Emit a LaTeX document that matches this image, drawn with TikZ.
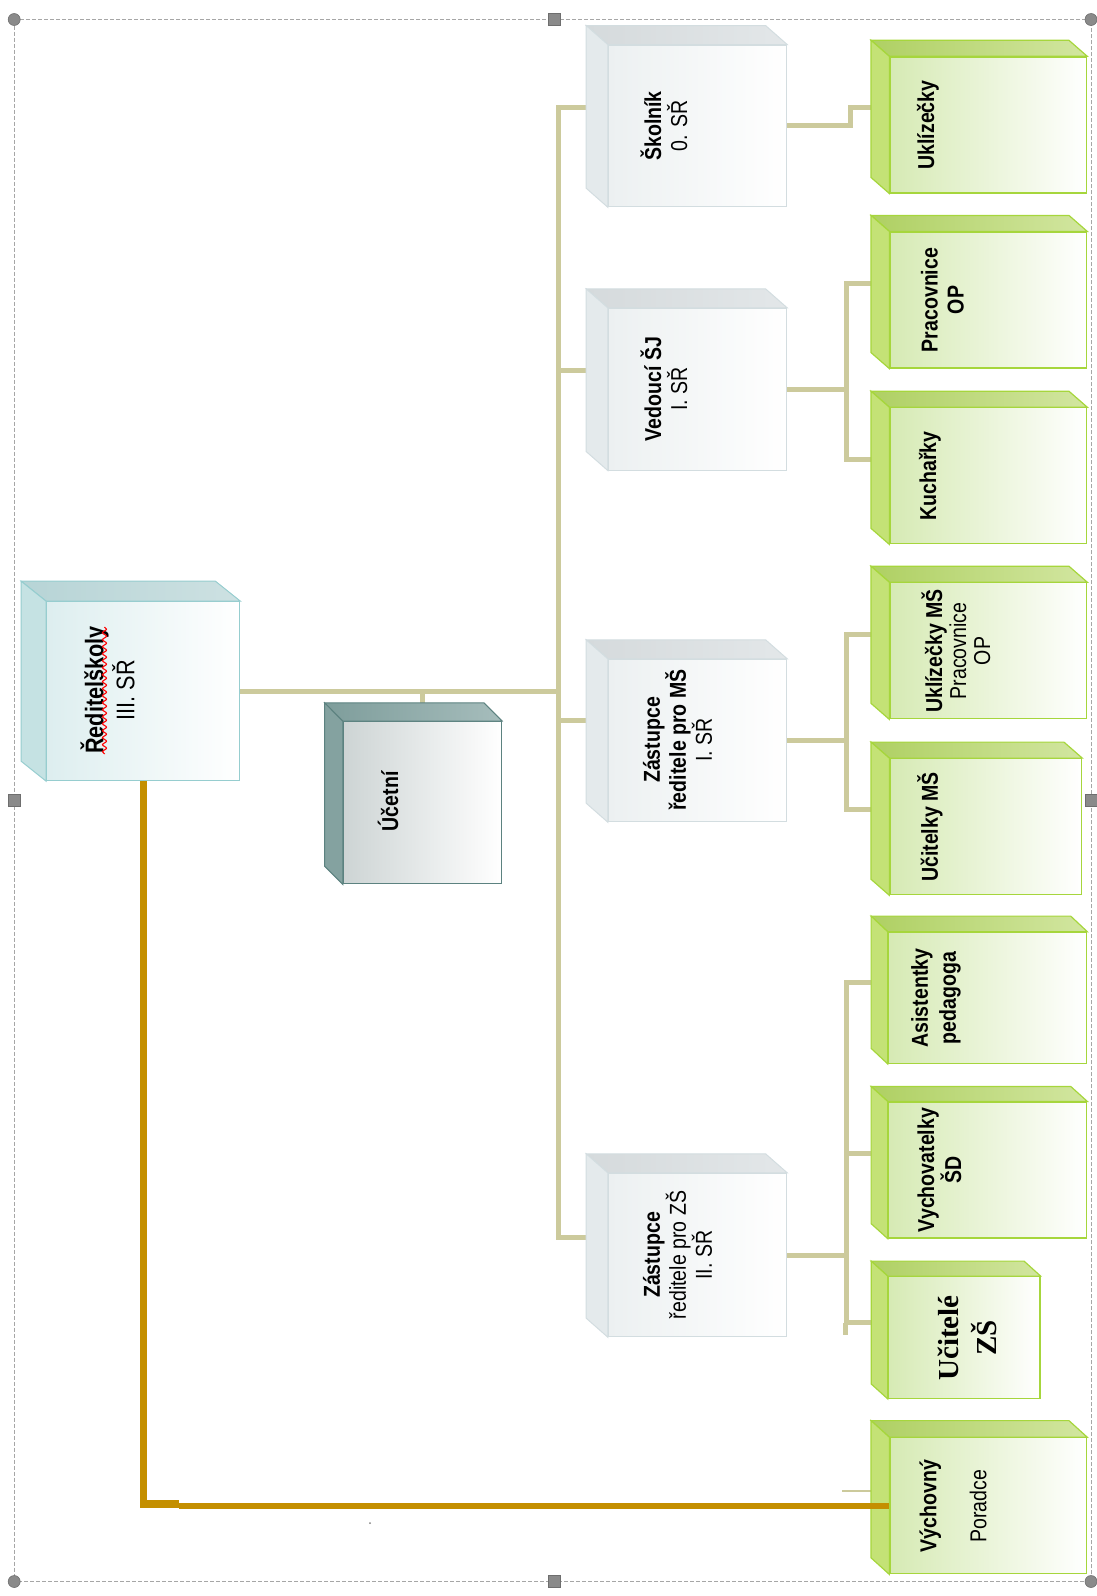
\documentclass[tikz,border=0pt]{standalone}
\usepackage{fontspec}
\setmainfont[FakeStretch=0.85]{Liberation Sans}
\newfontfamily\timesface{Liberation Serif}
\usetikzlibrary{backgrounds}
\usetikzlibrary{decorations.pathmorphing}

\definecolor{linkkhaki}{HTML}{CCCA9C}
\definecolor{advgold}{HTML}{C48F00}
\definecolor{greyline}{HTML}{D3DDE0}
\definecolor{greyfront}{HTML}{ECF0F1}
\definecolor{greytopA}{HTML}{D5DADC}
\definecolor{greytopB}{HTML}{E3E7E9}
\definecolor{greysidec}{HTML}{E4EAEC}
\definecolor{greenline}{HTML}{A6D63C}
\definecolor{greenfront}{HTML}{D6EAB4}
\definecolor{greentopA}{HTML}{AFD063}
\definecolor{greentopB}{HTML}{D2E6A0}
\definecolor{greensidec}{HTML}{C4E276}
\definecolor{dirline}{HTML}{96CDCF}
\definecolor{dirfront}{HTML}{DDEEEF}
\definecolor{dirtopA}{HTML}{B7D4D6}
\definecolor{dirtopB}{HTML}{CDE1E2}
\definecolor{dirsidec}{HTML}{C5E2E3}
\definecolor{accline}{HTML}{5C8280}
\definecolor{accfront}{HTML}{CDD4D4}
\definecolor{acctopA}{HTML}{7E9D9B}
\definecolor{acctopB}{HTML}{A6BDBC}
\definecolor{accsidec}{HTML}{84A2A0}
\definecolor{framegrey}{HTML}{A6A6A6}
\definecolor{handlegrey}{HTML}{8A8A8A}

% top and left faces of a box behind the front node
\newcommand{\boxsides}[4]{%
	\draw[#4top] (#1.north west) -- ++(-#2,-#3) -- ([shift={(-#2,-#3)}]#1.north east) -- (#1.north east) -- cycle;
	\draw[#4side] (#1.north west) -- ++(-#2,-#3) -- ([shift={(-#2,-#3)}]#1.south west) -- (#1.south west) -- cycle;
}

\begin{document}
\begin{tikzpicture}[
	x = 1pt, y = -1pt,
	link/.style={draw=linkkhaki, line width=5pt},
	advisor/.style={draw=advgold, line width=7.5pt},
	boxtext/.style={rotate=90, align=center, inner sep=0pt, font=\fontsize{23}{26}\selectfont},
	greyface/.style={draw=greyline, line width=1pt, left color=greyfront, right color=white, inner sep=0pt, minimum width=178.4pt, minimum height=161.7pt},
	greytop/.style={draw=greyline, line width=1pt, left color=greytopA, right color=greytopB},
	greyside/.style={draw=greyline, line width=1pt, fill=greysidec},
	greenface/.style={draw=greenline, line width=1.2pt, left color=greenfront, right color=white, inner sep=0pt, minimum width=196.7pt, minimum height=136pt},
	greentop/.style={draw=greenline, line width=1.2pt, left color=greentopA, right color=greentopB},
	greenside/.style={draw=greenline, line width=1.2pt, fill=greensidec},
	dirface/.style={draw=dirline, line width=1pt, left color=dirfront, right color=white, inner sep=0pt, minimum width=193.3pt, minimum height=179pt},
	dirtop/.style={draw=dirline, line width=1pt, left color=dirtopA, right color=dirtopB},
	dirside/.style={draw=dirline, line width=1pt, fill=dirsidec},
	accface/.style={draw=accline, line width=1pt, left color=accfront, right color=white, inner sep=0pt, minimum width=158.4pt, minimum height=162.3pt},
	acctop/.style={draw=accline, line width=1pt, left color=acctopA, right color=acctopB},
	accside/.style={draw=accline, line width=1pt, fill=accsidec},
	handle/.style={fill=handlegrey, draw=handlegrey!80!black, line width=0.6pt},
	]
	\useasboundingbox (0,0) rectangle (1097,1596);

	% director and accountant
	\node (dir) [dirface] at (143.3,691.2) {};
	\boxsides{dir}{25}{20}{dir}
	\node (dir-t) [boxtext, font=\fontsize{25.5}{31}\selectfont] at (107.5,690) {\textbf{Ředitelškoly}\\III. SŘ};
	\draw[red, line width=1.1pt, decorate, decoration={snake, amplitude=2pt, segment length=7pt}] (104.5,627) -- (104.5,754);

	\node (ucetni) [accface] at (422.5,802.8) {};
	\boxsides{ucetni}{18.3}{18.4}{acc}
	\node (ucetni-t) [boxtext] at (388,801) {\textbf{Účetní}};

	% second level
	\node (skolnik) [greyface] at (697.5,125.9) {};
	\boxsides{skolnik}{21.6}{19}{grey}
	\node (skolnik-t) [boxtext] at (664,126) {\textbf{Školník}\\0. SŘ};

	\node (vedouci) [greyface] at (697.5,389.2) {};
	\boxsides{vedouci}{21.6}{19}{grey}
	\node (vedouci-t) [boxtext] at (664,389) {\textbf{Vedoucí ŠJ}\\I. SŘ};

	\node (zsms) [greyface, minimum height=162.4pt] at (697.5,740.5) {};
	\boxsides{zsms}{21.6}{19}{grey}
	\node (zsms-t) [boxtext] at (677.5,740) {\textbf{Zástupce}\\\textbf{ředitele pro MŠ}\\I. SŘ};

	\node (zszs) [greyface, minimum height=163.4pt] at (697.5,1255) {};
	\boxsides{zszs}{21.6}{19}{grey}
	\node (zszs-t) [boxtext] at (677.5,1255) {\textbf{Zástupce}\\ředitele pro ZŠ\\II. SŘ};

	% staff
	\node (ukl) [greenface] at (988.3,124.9) {};
	\boxsides{ukl}{18.3}{16}{green}
	\node (ukl-t) [boxtext] at (928,125) {\textbf{Uklízečky}};

	\node (prac) [greenface] at (988.3,300) {};
	\boxsides{prac}{18.3}{16}{green}
	\node (prac-t) [boxtext] at (942.5,300) {\textbf{Pracovnice}\\\textbf{OP}};

	\node (kuch) [greenface] at (988.3,475.8) {};
	\boxsides{kuch}{18.3}{16}{green}
	\node (kuch-t) [boxtext] at (930,476) {\textbf{Kuchařky}};

	\node (uklms) [greenface] at (988.3,650.8) {};
	\boxsides{uklms}{18.3}{16}{green}
	\node (uklms-t) [boxtext, font=\fontsize{23}{24}\selectfont] at (956,651) {\textbf{Uklízečky MŠ}\\Pracovnice\\OP};

	\node (ucms) [greenface, minimum width=191.7pt] at (985.8,826.7) {};
	\boxsides{ucms}{18.3}{16}{green}
	\node (ucms-t) [boxtext] at (930,827) {\textbf{Učitelky MŠ}};

	\node (asist) [greenface, minimum width=198.4pt, minimum height=131pt] at (987.5,997.8) {};
	\boxsides{asist}{16.6}{15.6}{green}
	\node (asist-t) [boxtext, font=\fontsize{23}{28}\selectfont] at (936,998) {\textbf{Asistentky}\\\textbf{pedagoga}};

	\node (vych) [greenface, minimum width=198.4pt] at (987.5,1170) {};
	\boxsides{vych}{16.6}{15}{green}
	\node (vych-t) [boxtext, font=\fontsize{23}{27}\selectfont] at (939.5,1170) {\textbf{Vychovatelky}\\\textbf{ŠD}};

	\node (ucit) [greenface, minimum width=151.7pt, minimum height=121.6pt] at (964.2,1337.5) {};
	\boxsides{ucit}{16.6}{15}{green}
	\node (ucit-t) [boxtext, font=\timesface\bfseries\fontsize{29}{38}\selectfont] at (967,1338) {Učitelé\\ZŠ};

	\node (vp) [greenface] at (988.3,1505.8) {};
	\boxsides{vp}{18.3}{16.6}{green}
	\node (vp-t) [boxtext, font=\fontsize{23}{50}\selectfont] at (953,1506) {\textbf{Výchovný}\\Poradce};

	% connectors (yshift is upwards on the page)
	\begin{pgfonlayer}{background}
	\draw[link] (dir.east) -- ++(318,0) |- ([yshift=18]skolnik.west);
	\draw[link] (dir.east) -- ++(318,0) |- ([yshift=19]vedouci.west);
	\draw[link] (dir.east) -- ++(318,0) |- ([yshift=20]zsms.west);
	\draw[link] (dir.east) -- ++(318,0) |- ([yshift=18]zszs.west);
	\draw[link] (ucetni.north) -- (ucetni.north |- dir.east);

	\draw[link] (skolnik.east) -- ++(63,0) |- ([yshift=17]ukl.west);
	\draw[link] (vedouci.east) -- ++(59,0) |- ([yshift=17]prac.west);
	\draw[link] (vedouci.east) -- ++(59,0) |- ([yshift=16]kuch.west);
	\draw[link] (zsms.east) -- ++(59,0) |- ([yshift=16]uklms.west);
	\draw[link] (zsms.east) -- ++(59,0) |- ([yshift=17]ucms.west);
	\draw[link] (zszs.east) -- ++(59,0) |- ([yshift=15]asist.west);
	\draw[link] (zszs.east) -- ++(59,0) |- ([yshift=17]vych.west);
	\draw[link] (zszs.east) -- ++(59,0) |- ([yshift=15]ucit.west);
	\draw[link] ([shift={(-42,-15)}]ucit.west) -- ++(0,12);
	\draw[link, line width=1.5pt] ([shift={(-47,-15)}]vp.west) -- ++(29,0);
	\end{pgfonlayer}

	% advisor line over the box side
	\draw[advisor] (dir.south) |- ([xshift=-710pt,yshift=2pt]vp.west);
	\draw[advisor, line width=6pt] ([xshift=-710pt]vp.west) -- (vp.west);
	\fill[gray] (370,1523) circle (1pt);

	% selection frame
	\draw[framegrey, line width=0.8pt, dash pattern=on 4pt off 2pt] (14.2,19.5) rectangle (1091,1581.5);
	\foreach \hx/\hy in {14.2/19.5, 1091/19.5, 14.2/1581.5, 1091/1581.5}
		\draw[handle] (\hx,\hy) circle (6pt);
	\foreach \hx/\hy in {554.6/19.5, 554.6/1581.5, 14.2/800, 1091/800}
		\draw[handle] (\hx,\hy) +(-6,-6) rectangle +(6,6);
\end{tikzpicture}
\end{document}
